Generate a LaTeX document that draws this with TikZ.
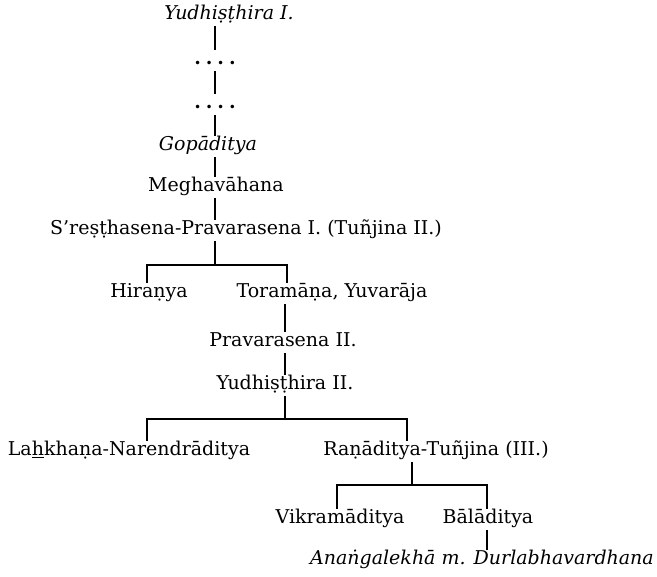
\documentclass[tikz,border=0pt]{standalone}
\usepackage{fontspec}
\setmainfont{DejaVu Serif}
\usetikzlibrary{positioning,calc}

\begin{document}
\begin{tikzpicture}[x=1pt,y=-1pt,
    person/.style={anchor=base, inner sep=2pt, text height=13pt, text depth=4pt, font=\fontsize{19}{22}\selectfont},
    legend/.style={person, font=\fontsize{19}{22}\selectfont\itshape},
    link/.style={line width=1.2pt}
  ]
  \useasboundingbox (0,0) rectangle (657,577);

  % Columns of the tree
  \coordinate (trunk) at (215,0);
  \coordinate (stem2) at (285,0);
  \coordinate (stem3) at (412,0);
  \coordinate (leftcol) at (147,0);
  \coordinate (torcol) at (287,0);
  \coordinate (rancol) at (407,0);
  \coordinate (vikcol) at (337,0);
  \coordinate (balcol) at (487,0);
  \coordinate (split1) at (215,265);
  \coordinate (split2) at (285,419);
  \coordinate (split3) at (412,485);

  % Early line
  \node[legend] (yud1) at (229,20) {Yudhiṣṭhira I.};
  \node[person] (dots1) at (215,65) {\textbf{.\hspace{5pt}.\hspace{5pt}.\hspace{5pt}.}};
  \node[person] (dots2) at (215,109) {\textbf{.\hspace{5pt}.\hspace{5pt}.\hspace{5pt}.}};
  \node[legend] (gop) at (208,151) {Gopāditya};
  \node[person] (megh) at (216,192) {Meghavāhana};
  \node[person] (sres) at (246,235) {S'reṣṭhasena-Pravarasena I. (Tuñjina II.)};

  % Sons of Pravarasena I.
  \node[person] (hir) at (149,298) {Hiraṇya};
  \node[person] (tor) at (332,298) {Toramāṇa, Yuvarāja};
  \node[person] (prav) at (283,347) {Pravarasena II.};
  \node[person] (yud2) at (285,390) {Yudhiṣṭhira II.};

  % Sons of Yudhisthira II.
  \node[person] (lah) at (129,456) {La\underline{h}khaṇa-Narendrāditya};
  \node[person] (ran) at (436,456) {Raṇāditya-Tuñjina (III.)};

  % Sons of Ranaditya
  \node[person] (vik) at (340,524) {Vikramāditya};
  \node[person] (bal) at (488,524) {Bālāditya};
  \node[legend] (ang) at (482,565) {Anaṅgalekhā m. Durlabhavardhana};

  % Lines of descent
  \draw[link] (yud1.south -| trunk) -- (dots1.north -| trunk);
  \draw[link] (dots1.south -| trunk) -- (dots2.north -| trunk);
  \draw[link] (dots2.south -| trunk) -- (gop.north -| trunk);
  \draw[link] (gop.south -| trunk) -- (megh.north -| trunk);
  \draw[link] (megh.south -| trunk) -- (sres.north -| trunk);
  \draw[link] (sres.south -| trunk) -- (split1);
  \draw[link] (hir.north -| leftcol) |- (split1) -| (tor.north -| torcol);
  \draw[link] (tor.south -| stem2) -- (prav.north -| stem2);
  \draw[link] (prav.south -| stem2) -- (yud2.north -| stem2);
  \draw[link] (yud2.south -| stem2) -- (split2);
  \draw[link] (lah.north -| leftcol) |- (split2) -| (ran.north -| rancol);
  \draw[link] (ran.south -| stem3) -- (split3);
  \draw[link] (vik.north -| vikcol) |- (split3) -| (bal.north -| balcol);
  \draw[link] (bal.south -| balcol) -- (ang.north -| balcol);
\end{tikzpicture}
\end{document}
